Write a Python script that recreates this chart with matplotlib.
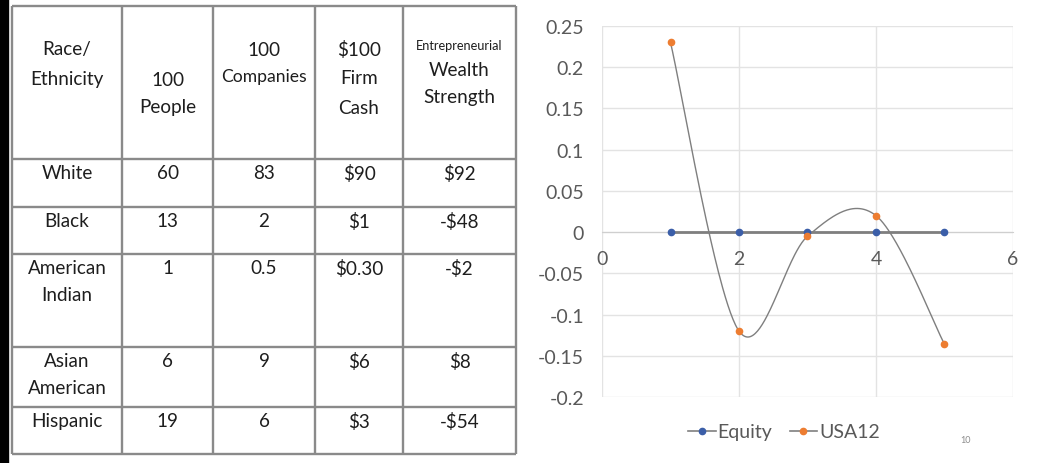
import numpy as np
import matplotlib
matplotlib.use("Agg")
import matplotlib.pyplot as plt
from matplotlib.lines import Line2D
from matplotlib.patches import Rectangle

plt.rcParams['font.family'] = ['Lato', 'DejaVu Sans']

# ---------------- data ----------------
groups = [["White"], ["Black"], ["American", "Indian"], ["Asian", "American"], ["Hispanic"]]
people = ["60", "13", "1", "6", "19"]
companies = ["83", "2", "0.5", "9", "6"]
firm_cash = ["$90", "$1", "$0.30", "$6", "$3"]
wealth = ["$92", "-$48", "-$2", "$8", "-$54"]

x_vals = [1, 2, 3, 4, 5]
equity = [0, 0, 0, 0, 0]
usa12 = [0.23, -0.12, -0.005, 0.02, -0.136]
x_ticks = [0, 2, 4, 6]
y_ticks = [-0.2, -0.15, -0.1, -0.05, 0, 0.05, 0.1, 0.15, 0.2, 0.25]
y_tick_labels = ["-0.2", "-0.15", "-0.1", "-0.05", "0", "0.05", "0.1", "0.15", "0.2", "0.25"]
notes = [("1.", "Whites"), ("2.", "Blacks"), ("3.", "American"), ("", "Indian"),
         ("4.", "Asian"), ("", "American"), ("5.", "Hispanic")]

W, H = 1058, 464
fig = plt.figure(figsize=(W / 100, H / 100), dpi=100)

# ---------------- background / table (pixel coordinates) ----------------
bg = fig.add_axes([0, 0, 1, 1])
bg.set_xlim(0, W)
bg.set_ylim(H, 0)
bg.axis('off')
bg.add_patch(Rectangle((0, 0), 8, H, color='black', zorder=0))

col_x = [12, 122, 213, 315, 403, 516]
row_y = [7, 160, 208, 255, 348, 408, 455]
line_c = '#8a8a8a'
for x in col_x:
    bg.plot([x, x], [row_y[0], row_y[-1]], color=line_c, lw=1.7, solid_capstyle='butt')
for y in row_y:
    bg.plot([col_x[0], col_x[-1]], [y, y], color=line_c, lw=1.7, solid_capstyle='butt')

centers = [(col_x[i] + col_x[i + 1]) / 2 for i in range(5)]
tc = '#1e1e1e'
fs = 13.6

# header
header = [
    [("Race/", 50, fs), ("Ethnicity", 79, fs)],
    [("100", 80, fs), ("People", 107, fs)],
    [("100", 50, fs), ("Companies", 77, 12.6)],
    [("$100", 50, fs), ("Firm", 79, fs), ("Cash", 108, fs)],
    [("Entrepreneurial", 46, 9.2), ("Wealth", 70, fs), ("Strength", 98, fs)],
]
for ci, lines in enumerate(header):
    for txt, y, s in lines:
        bg.text(centers[ci], y, txt, ha='center', va='center', fontsize=s, color=tc)

line_step = 27
for ri in range(5):
    y0 = row_y[ri + 1] + 14
    for li, g in enumerate(groups[ri]):
        bg.text(centers[0], y0 + li * line_step, g, ha='center', va='center', fontsize=fs, color=tc)
    for ci, col in enumerate([people, companies, firm_cash, wealth]):
        bg.text(centers[ci + 1], y0, col[ri], ha='center', va='center', fontsize=fs, color=tc)

# ---------------- chart ----------------
ax = fig.add_axes([602 / W, 1 - 398 / H, (1013 - 602) / W, (398 - 27) / H])
ax.set_xlim(0, 6)
ax.set_ylim(-0.2, 0.25)
for s in ['top', 'right', 'left']:
    ax.spines[s].set_visible(False)
ax.spines['bottom'].set_position(('data', 0))
ax.spines['bottom'].set_color('#cfcfcf')
ax.set_xticks(x_ticks)
ax.set_yticks(y_ticks)
ax.set_yticklabels(y_tick_labels)
ax.tick_params(axis='both', length=0, labelsize=14, labelcolor='#595959')
ax.tick_params(axis='x', pad=13)
ax.tick_params(axis='y', pad=13)
ax.grid(True, color='#e3e3e3', lw=1.0)
ax.set_axisbelow(True)

# Excel-like smoothed line (Catmull-Rom Bezier)
def smooth(xs, ys, n=60):
    P = np.column_stack([xs, ys]).astype(float)
    Pe = np.vstack([P[0], P, P[-1]])
    out = []
    for i in range(len(P) - 1):
        p0, p1, p2, p3 = Pe[i], Pe[i + 1], Pe[i + 2], Pe[i + 3]
        c1 = p1 + (p2 - p0) / 6
        c2 = p2 - (p3 - p1) / 6
        t = np.linspace(0, 1, n)[:, None]
        seg = (1 - t) ** 3 * p1 + 3 * (1 - t) ** 2 * t * c1 + 3 * (1 - t) * t ** 2 * c2 + t ** 3 * p2
        out.append(seg)
    c = np.vstack(out)
    return c[:, 0], c[:, 1]

eq_c = '#3b5ea8'
us_c = '#ed7d31'
ax.plot(x_vals, equity, color='#7f7f7f', lw=2.0, zorder=3)
ax.plot(x_vals, equity, 'o', color=eq_c, ms=4.5, zorder=4)
sx, sy = smooth(x_vals, usa12)
ax.plot(sx, sy, color='#7f7f7f', lw=1.0, zorder=3)
ax.plot(x_vals, usa12, 'o', color=us_c, ms=4.5, zorder=4)

# notes text box
for i, (num, txt) in enumerate(notes):
    y = 50 + i * 20
    bg.text(888, y, num, ha='left', va='center', fontsize=10.5, color='#404040')
    bg.text(917, y, txt, ha='left', va='center', fontsize=10.5, color='#404040')

# legend
handles = [Line2D([0], [0], color='#7f7f7f', lw=1.2, marker='o', ms=4.5, mfc=eq_c, mec=eq_c),
           Line2D([0], [0], color='#7f7f7f', lw=1.2, marker='o', ms=4.5, mfc=us_c, mec=us_c)]
fig.legend(handles, ['Equity', 'USA12'], loc='center', bbox_to_anchor=(784 / W, 1 - 433 / H),
           ncol=2, frameon=False, fontsize=14, handlelength=1.4, handletextpad=0.1,
           columnspacing=0.9, labelcolor='#595959')

bg.text(966, 441, "10", ha='center', va='center', fontsize=6.5, color='#8c8c8c')

fig.savefig("out.png", dpi=100)
